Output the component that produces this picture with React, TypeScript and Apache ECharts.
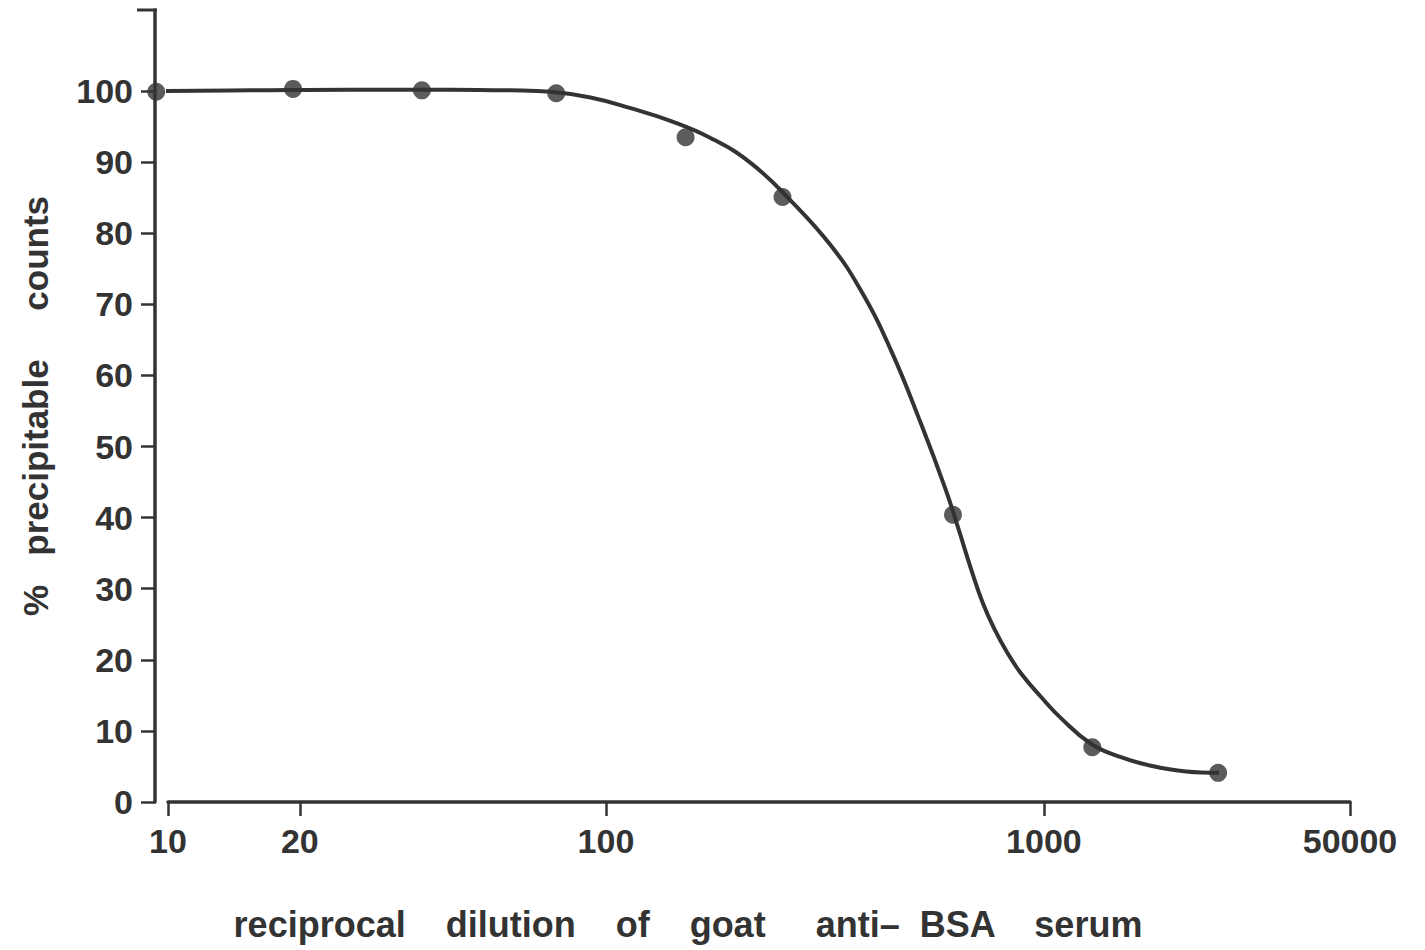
import React, { useEffect, useRef } from "react";
import * as echarts from "echarts";

// Measured points (reciprocal dilution, % precipitable counts)
const dilutions = [9.4, 19.3, 38, 77, 152, 253, 620, 1290, 2500];
const percents = [99.9, 100.3, 100.1, 99.7, 93.5, 85.1, 40.4, 7.7, 4.1];

// Fitted curve
const curveX = [9.44, 15.4, 26.1, 44.1, 60.5, 74.7, 92.2, 113.8, 140.4, 173.3, 213.9, 264.1, 326, 381.6, 447.1, 523.4, 597, 639.1, 680.8, 725.3, 772.7, 823.2, 886.2, 984.3, 1093.6, 1280.6, 1499.7, 1756.2, 2111, 2512];
const curveY = [100.0, 100.1, 100.2, 100.2, 100.1, 99.9, 99.1, 97.6, 95.8, 93.4, 89.9, 84.6, 78.3, 72.0, 63.6, 53.3, 43.9, 38.3, 32.9, 28.0, 24.2, 21.1, 18.1, 14.8, 11.8, 8.2, 6.3, 5.1, 4.3, 4.1];

const xTickValues = [10, 20, 100, 1000, 5000];
const xTickLabels = ["10", "20", "100", "1000", "50000"];
const yTickValues = [0, 10, 20, 30, 40, 50, 60, 70, 80, 90, 100];

const xName = "reciprocal    dilution    of    goat     anti–  BSA    serum";
const yName = "%   precipitable     counts";

const INK = "#333333";
const FONT = "'Liberation Sans', Arial, Helvetica, sans-serif";

export default function App() {
  const ref = useRef<HTMLDivElement>(null);

  useEffect(() => {
    document.body.style.margin = "0";
    const chart = echarts.init(ref.current!, null, { renderer: "svg" });
    const option = {
      animation: false,
      backgroundColor: "#ffffff",
      grid: { left: 168, right: 75, top: 10, bottom: 148, containLabel: false },
      xAxis: {
        type: "log",
        logBase: 10,
        min: 10,
        max: 5000,
        name: xName,
        nameLocation: "middle",
        nameGap: 104,
        nameTextStyle: {
          fontFamily: FONT,
          fontWeight: "bold",
          fontSize: 36,
          color: INK,
          padding: [0, 142, 0, 0],
        },
        axisLine: { show: true, lineStyle: { color: INK, width: 3.5 } },
        axisTick: {
          show: true,
          length: 14,
          lineStyle: { color: INK, width: 2.5 },
          customValues: xTickValues,
        },
        axisLabel: {
          margin: 22,
          fontFamily: FONT,
          fontWeight: "bold",
          fontSize: 34,
          color: INK,
          customValues: xTickValues,
          formatter: (v: number) => {
            const i = xTickValues.findIndex((t) => Math.abs(t - v) / t < 1e-6);
            return i >= 0 ? xTickLabels[i] : "";
          },
        },
        splitLine: { show: false },
        minorTick: { show: false },
      },
      yAxis: {
        type: "value",
        min: 0,
        max: 111.4,
        offset: 13,
        name: yName,
        nameLocation: "middle",
        nameGap: 102,
        nameTextStyle: {
          fontFamily: FONT,
          fontWeight: "bold",
          fontSize: 35,
          color: INK,
        },
        axisLine: { show: true, lineStyle: { color: INK, width: 3.5 } },
        axisTick: {
          show: true,
          length: 14,
          lineStyle: { color: INK, width: 2.5 },
          customValues: yTickValues,
        },
        axisLabel: {
          margin: 22,
          fontFamily: FONT,
          fontWeight: "bold",
          fontSize: 34,
          color: INK,
          customValues: yTickValues,
        },
        splitLine: { show: false },
      },
      graphic: [
        {
          type: "line",
          shape: { x1: 137, y1: 10, x2: 157, y2: 10 },
          style: { stroke: INK, lineWidth: 3 },
          z: 10,
        },
      ],
      series: [
        {
          type: "line",
          name: "curve",
          data: curveX.map((x, i) => [x, curveY[i]]),
          smooth: 0.45,
          showSymbol: false,
          symbol: "none",
          clip: false,
          lineStyle: { color: INK, width: 4 },
          z: 2,
        },
        {
          type: "scatter",
          name: "points",
          data: dilutions.map((x, i) => [x, percents[i]]),
          symbol: "circle",
          symbolSize: 18,
          clip: false,
          itemStyle: { color: INK },
          z: 3,
        },
      ],
    };
    chart.setOption(option as any);
    return () => chart.dispose();
  }, []);

  return (
    <div
      ref={ref}
      style={{ position: "absolute", left: 0, top: 0, width: 1425, height: 950 }}
    />
  );
}
